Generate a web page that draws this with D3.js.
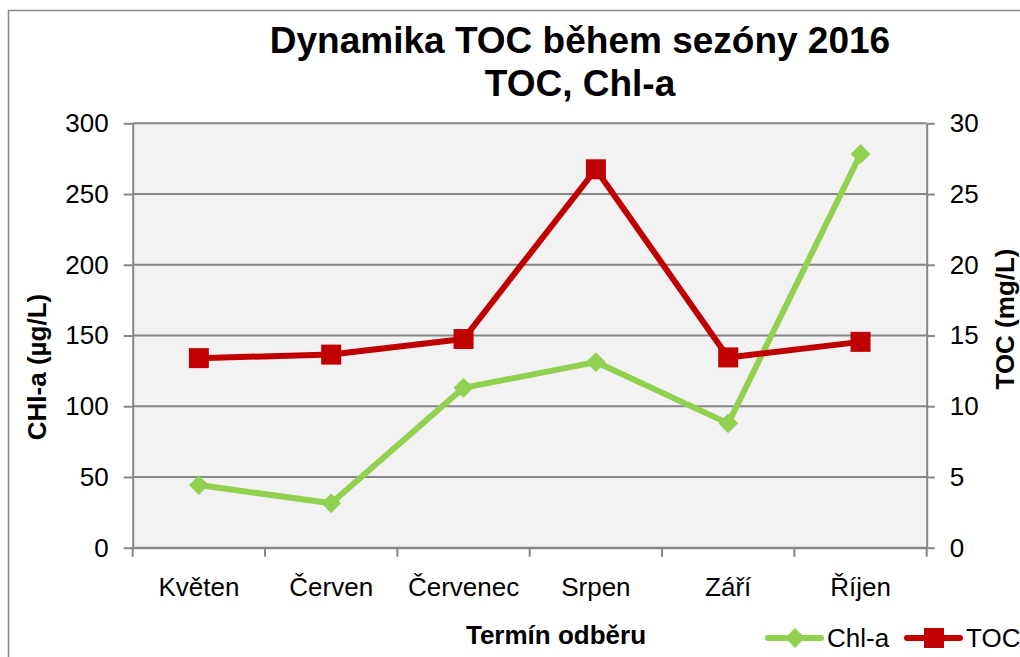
<!DOCTYPE html>
<style>body{margin:0;background:#fff}</style>
<svg width="1020" height="657" font-family="Liberation Sans, Arial, sans-serif"></svg>
<script src="https://cdn.jsdelivr.net/npm/d3@7"></script>
<script>

var svg = d3.select("svg"),
    width = +svg.attr("width"),
    height = +svg.attr("height");

var data = [
  {month: "Květen",   chl: 44.3,  toc: 13.4},
  {month: "Červen",   chl: 31.4,  toc: 13.65},
  {month: "Červenec", chl: 113,   toc: 14.75},
  {month: "Srpen",    chl: 131.2, toc: 26.75},
  {month: "Září",     chl: 87.9,  toc: 13.45},
  {month: "Říjen",    chl: 278.3, toc: 14.55}
];

var plot = {left: 132.7, right: 926.7, top: 123.3, bottom: 547.7};

var x = d3.scaleBand()
    .domain(data.map(function(d) { return d.month; }))
    .range([plot.left, plot.right]);

var yL = d3.scaleLinear().domain([0, 300]).range([plot.bottom, plot.top]);
var yR = d3.scaleLinear().domain([0, 30]).range([plot.bottom, plot.top]);

var cx = function(d) { return x(d.month) + x.bandwidth() / 2; };
var axisGray = "#868686";

// outer chart border (runs off the right and bottom)
svg.append("rect")
    .attr("x", 8.5).attr("y", 10.5)
    .attr("width", 1100).attr("height", 700)
    .attr("fill", "none").attr("stroke", axisGray).attr("stroke-width", 1.5);

svg.append("rect")
    .attr("x", plot.left).attr("y", plot.top)
    .attr("width", plot.right - plot.left).attr("height", plot.bottom - plot.top)
    .attr("fill", "#f2f2f2");

// gridlines
svg.append("g")
  .selectAll("line")
  .data(yL.ticks(6))
  .enter().append("line")
    .attr("x1", plot.left).attr("x2", plot.right)
    .attr("y1", function(d) { return yL(d); })
    .attr("y2", function(d) { return yL(d); })
    .attr("stroke", axisGray).attr("stroke-width", 2);

function styleAxis(g) {
  g.select(".domain").attr("stroke", axisGray).attr("stroke-width", 2);
  g.selectAll(".tick line").attr("stroke", axisGray).attr("stroke-width", 2);
  g.selectAll(".tick text").attr("fill", "#000").attr("font-size", 26)
      .attr("font-family", "Liberation Sans, Arial, sans-serif");
}

svg.append("g")
    .attr("transform", "translate(" + plot.left + ",0)")
    .call(d3.axisLeft(yL).ticks(6).tickSize(9).tickPadding(15).tickSizeOuter(0))
    .call(styleAxis);

svg.append("g")
    .attr("transform", "translate(" + plot.right + ",0)")
    .call(d3.axisRight(yR).ticks(6).tickSize(8).tickPadding(15).tickSizeOuter(0))
    .call(styleAxis);

// category axis: labels centred, ticks on band edges
var xg = svg.append("g")
    .attr("transform", "translate(0," + plot.bottom + ")")
    .call(d3.axisBottom(x).tickSize(0).tickPadding(30).tickSizeOuter(0))
    .call(styleAxis);

var edges = x.domain().map(function(m) { return x(m); }).concat([plot.right]);
xg.selectAll(".edge")
  .data(edges)
  .enter().append("line")
    .attr("class", "edge")
    .attr("x1", function(d) { return d; }).attr("x2", function(d) { return d; })
    .attr("y1", 0).attr("y2", 9)
    .attr("stroke", axisGray).attr("stroke-width", 2);

// series
var series = [
  {key: "chl", name: "Chl-a", color: "#92d050", y: yL, shape: d3.symbolDiamond2},
  {key: "toc", name: "TOC",   color: "#c00000", y: yR, shape: d3.symbolSquare}
];

series.forEach(function(s) {
  var line = d3.line()
      .x(cx)
      .y(function(d) { return s.y(d[s.key]); });

  svg.append("path")
      .datum(data)
      .attr("d", line)
      .attr("fill", "none")
      .attr("stroke", s.color)
      .attr("stroke-width", 6)
      .attr("stroke-linejoin", "round");

  svg.append("g")
    .selectAll("path")
    .data(data)
    .enter().append("path")
      .attr("transform", function(d) { return "translate(" + cx(d) + "," + s.y(d[s.key]) + ")"; })
      .attr("d", d3.symbol().type(s.shape).size(s.key == "toc" ? 400 : 250))
      .attr("fill", s.color);
});

// titles
var title = svg.append("text")
    .attr("text-anchor", "middle")
    .attr("font-weight", "bold")
    .attr("font-size", 37);
title.append("tspan").attr("x", 580).attr("y", 53).text("Dynamika TOC během sezóny 2016");
title.append("tspan").attr("x", 580).attr("y", 96).text("TOC, Chl-a");

svg.append("text")
    .attr("transform", "translate(37,367) rotate(-90)")
    .attr("text-anchor", "middle")
    .attr("dominant-baseline", "central")
    .attr("font-weight", "bold")
    .attr("font-size", 26)
    .text("CHl-a (µg/L)");

svg.append("text")
    .attr("transform", "translate(1005,319) rotate(-90)")
    .attr("text-anchor", "middle")
    .attr("dominant-baseline", "central")
    .attr("font-weight", "bold")
    .attr("font-size", 26)
    .text("TOC (mg/L)");

svg.append("text")
    .attr("x", 556).attr("y", 644)
    .attr("text-anchor", "middle")
    .attr("font-weight", "bold")
    .attr("font-size", 26)
    .text("Termín odběru");

// legend
var legend = svg.append("g")
  .selectAll("g")
  .data(series)
  .enter().append("g")
    .attr("transform", function(d, i) { return "translate(" + (768 + i * 139) + ",638)"; });

legend.append("line")
    .attr("x1", 0).attr("x2", 53)
    .attr("stroke", function(d) { return d.color; })
    .attr("stroke-width", 6)
    .attr("stroke-linecap", "round");

legend.append("path")
    .attr("transform", "translate(27,0)")
    .attr("d", function(d) { return d3.symbol().type(d.shape).size(d.key == "toc" ? 400 : 250)(); })
    .attr("fill", function(d) { return d.color; });

legend.append("text")
    .attr("x", 59).attr("y", 9)
    .attr("font-size", 26)
    .text(function(d) { return d.name; });

</script>
